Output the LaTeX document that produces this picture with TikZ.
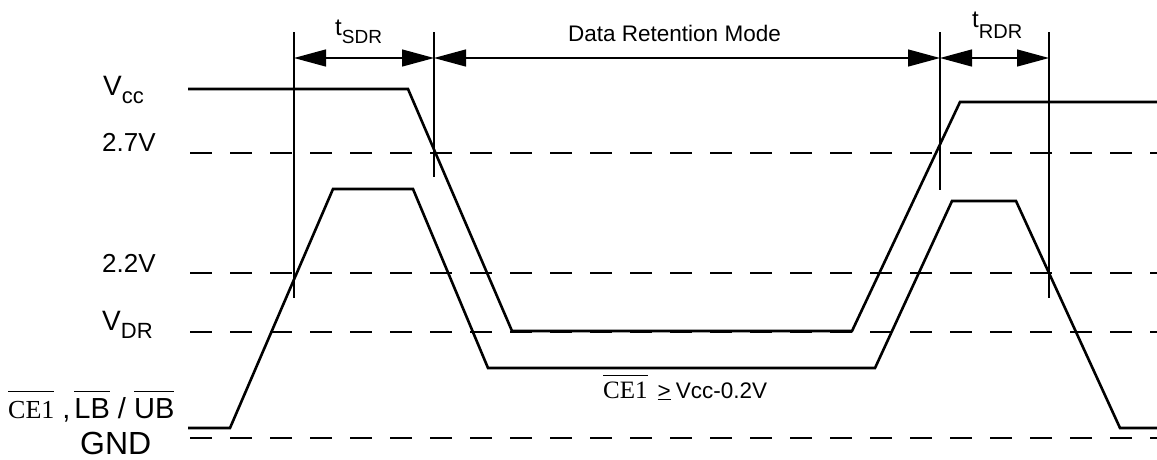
\documentclass[tikz,border=0pt]{standalone}
\usepackage{fontspec}
\setmainfont{Liberation Sans}
\newfontfamily\serifcE{Liberation Serif}
\usetikzlibrary{arrows.meta}
\newcommand\fsz[2]{{\fontsize{#1}{#1}\selectfont #2}}
\newcommand\ovl[2]{\leavevmode\vbox{\hrule height 1pt\kern#1\hbox{#2}}}
\newcommand\sbx[3]{\raisebox{-#1}{\fsz{#2}{#3}}}
\begin{document}
\begin{tikzpicture}[x=1pt,y=-1pt,
  wave/.style={line width=2.6pt, line join=miter},
  level/.style={line width=1.3pt, dash pattern=on 22pt off 18pt},
  marker/.style={line width=1.3pt},
  dimline/.style={line width=1.3pt, {Triangle[length=32pt,width=17pt]}-{Triangle[length=32pt,width=17pt]}},
  lbl/.style={inner sep=0pt, anchor=base west}]
\useasboundingbox (0,0) rectangle (1157,459);

% reference levels
\coordinate (l27a) at (190,153); \coordinate (l27b) at (1157,153);
\coordinate (l22a) at (190,273); \coordinate (l22b) at (1157,273);
\coordinate (ldra) at (190,332); \coordinate (ldrb) at (1157,332);
\coordinate (lgna) at (190,438); \coordinate (lgnb) at (1157,438);
\draw[level] (l27a) -- (l27b);
\draw[level] (l22a) -- (l22b);
\draw[level] (ldra) -- (ldrb);
\draw[level] (lgna) -- (lgnb);

% timing markers
\coordinate (m1t) at (294,32);  \coordinate (m1b) at (294,298);
\coordinate (m2t) at (434,32);  \coordinate (m2b) at (434,177);
\coordinate (m3t) at (940,32);  \coordinate (m3b) at (940,190);
\coordinate (m4t) at (1049,32); \coordinate (m4b) at (1049,298);
\draw[marker] (m1t) -- (m1b);
\draw[marker] (m2t) -- (m2b);
\draw[marker] (m3t) -- (m3b);
\draw[marker] (m4t) -- (m4b);

\coordinate (a1) at (294,58); \coordinate (a2) at (434,58);
\coordinate (a3) at (940,58); \coordinate (a4) at (1049,58);
\draw[dimline] (a1) -- (a2);
\draw[dimline] (a2) -- (a3);
\draw[dimline] (a3) -- (a4);

% waveforms
\draw[wave] (188,89) -- (408,89) -- (512,331) -- (852,331) -- (960,102) -- (1157,102);
\draw[wave] (188,428) -- (230,428) -- (333,189) -- (413,189) -- (488,368) -- (875,368)
  -- (952,201) -- (1016,201) -- (1120,428) -- (1157,428);

% labels
\node[lbl] (tsdr) at (335,35) {\fsz{24}{t}\sbx{8pt}{19}{SDR}};
\node[lbl] (drm) at (568,41) {\fsz{22.5}{Data Retention Mode}};
\node[lbl] (trdr) at (972,27) {\fsz{24}{t}\sbx{11pt}{20}{RDR}};

\node[lbl] (vcc) at (103,95) {\fsz{28}{V}\sbx{8pt}{22}{cc}};
\node[lbl] (v27) at (102,151) {\fsz{26}{2.7V}};
\node[lbl] (v22) at (102,272) {\fsz{26}{2.2V}};
\node[lbl] (vdr) at (102,330) {\fsz{28}{V}\sbx{8pt}{22}{DR}};
\node[lbl] (ce) at (8,418) {\fsz{26}{\serifcE\ovl{9pt}{CE1}}\fsz{29}{\kern8pt,\kern4pt\ovl{6pt}{LB} / \ovl{6pt}{UB}}};
\node[lbl] (gnd) at (80,454) {\fsz{32}{GND}};

\node[lbl] (cond) at (603,398) {\fsz{25}{\serifcE\ovl{5pt}{CE1}}\kern10pt\fsz{22.5}{$\underline{\hbox{>}}$\kern5pt Vcc-0.2V}};
\end{tikzpicture}
\end{document}
